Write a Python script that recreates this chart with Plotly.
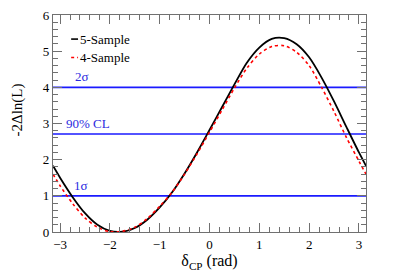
import numpy as np
import plotly.graph_objects as go

PI = np.pi
delta_cp = [-PI, -3.0, -2.75, -2.5, -2.25, -2.0, -1.75, -1.5, -1.25, -1.0, -0.75, -0.5,
            -0.25, 0.0, 0.25, 0.5, 0.75, 1.0, 1.25, 1.5, 1.75, 2.0, 2.25, 2.5, 2.75, 3.0, PI]
five_sample = [1.83, 1.50, 0.97, 0.52, 0.20, 0.03, 0.01, 0.11, 0.34, 0.68, 1.10, 1.62,
               2.20, 2.82, 3.45, 4.08, 4.68, 5.10, 5.34, 5.36, 5.19, 4.83, 4.27, 3.61, 2.90, 2.20, 1.83]
four_sample = [1.60, 1.28, 0.79, 0.39, 0.13, 0.01, 0.02, 0.13, 0.37, 0.71, 1.10, 1.60,
               2.16, 2.76, 3.37, 3.98, 4.53, 4.92, 5.13, 5.15, 4.97, 4.60, 4.00, 3.33, 2.61, 1.96, 1.60]
ref_levels = [1.0, 2.71, 4.0]
ref_labels = ["1σ", "90% CL", "2σ"]
ref_label_x = [-2.58, -2.43, -2.56]

FONT = "Liberation Serif"
fig = go.Figure()

for lv in ref_levels:
    fig.add_trace(go.Scatter(x=[-PI, PI], y=[lv, lv], mode="lines",
                             line=dict(color="#1a1aff", width=1.6), showlegend=False, hoverinfo="skip"))

fig.add_trace(go.Scatter(x=delta_cp, y=five_sample, mode="lines", name="5-Sample",
                         line=dict(color="black", width=1.8, shape="spline", smoothing=0.8), showlegend=False))
fig.add_trace(go.Scatter(x=delta_cp, y=four_sample, mode="lines", name="4-Sample",
                         line=dict(color="#ff0000", width=1.6, dash="dot", shape="spline", smoothing=0.8), showlegend=False))

for lv, lab, lx in zip(ref_levels, ref_labels, ref_label_x):
    fig.add_annotation(x=lx, y=lv, text=lab, showarrow=False, yanchor="bottom", yshift=1,
                       font=dict(family=FONT, size=13, color="#2a2ae0"))

# manual legend
legend_items = [("5-Sample", "black", "solid", 0.889), ("4-Sample", "#ff0000", "dot", 0.804)]
for name, col, dash, yp in legend_items:
    fig.add_shape(type="line", xref="paper", yref="paper", x0=0.058, x1=0.080, y0=yp, y1=yp,
                  line=dict(color=col, width=1.6, dash=dash))
    fig.add_annotation(xref="paper", yref="paper", x=0.080, y=yp, text=name, showarrow=False,
                       xanchor="left", yanchor="middle", font=dict(family=FONT, size=13, color="black"))

fig.add_annotation(xref="paper", yref="paper", x=-0.115, y=0.56, xanchor="center", yanchor="middle",
                   text="-2Δln(L)", textangle=-90, showarrow=False,
                   font=dict(family=FONT, size=15, color="black"))

axis_common = dict(showline=True, linecolor="#707070", linewidth=1.2, mirror="allticks",
                   ticks="inside", ticklen=9, tickcolor="#707070", tickwidth=1,
                   showgrid=False, zeroline=False, automargin=False, ticklabeloverflow="allow",
                   tickfont=dict(family=FONT, size=13, color="black"),
                   minor=dict(ticks="inside", ticklen=5, dtick=0.2, tickcolor="#707070", showgrid=False))

fig.update_xaxes(range=[-PI, PI], dtick=1, tick0=0,
                 title=dict(text="δ<sub>CP</sub> (rad)", font=dict(family=FONT, size=16, color="black"),
                            standoff=4),
                 **axis_common)
fig.update_yaxes(range=[0, 6], dtick=1, tick0=0, **axis_common)

# page body adds an 8px offset; compensate so the plot area lands where the reference has it
fig.update_layout(width=407, height=277, margin=dict(l=45, r=49, t=7, b=53),
                  plot_bgcolor="white", paper_bgcolor="white", showlegend=False)

fig.write_html("out.html")
